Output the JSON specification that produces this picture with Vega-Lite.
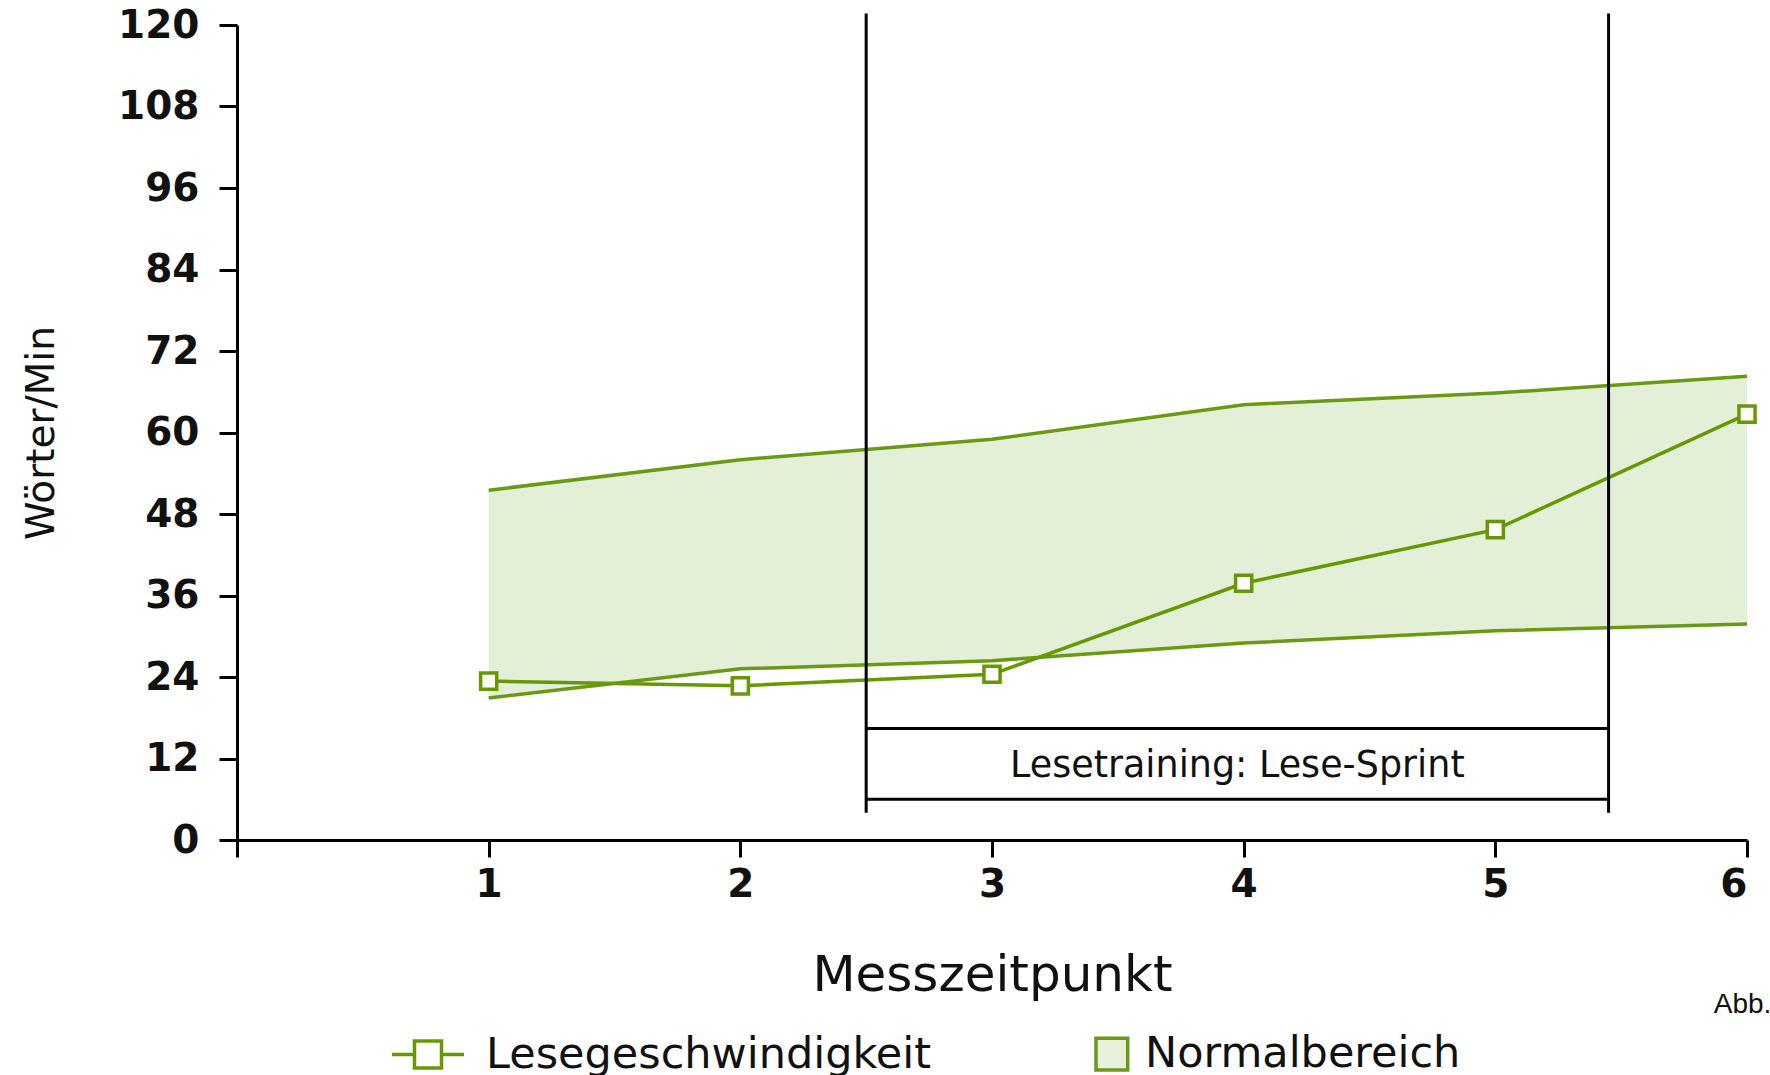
{
  "$schema": "https://vega.github.io/schema/vega-lite/v6.json",
  "width": 1510,
  "height": 815,
  "autosize": {"type": "none"},
  "padding": {"left": 237, "top": 25, "right": 23, "bottom": 235},
  "background": "white",
  "config": {
    "view": {"stroke": null},
    "axis": {"domainColor": "black", "domainWidth": 3, "tickColor": "black", "tickWidth": 3, "grid": false, "labelFont": "DejaVu Sans", "labelFontWeight": "bold", "labelFontSize": 39, "labelColor": "#111111", "titleFont": "DejaVu Sans", "titleFontWeight": "normal", "titleColor": "#111111"},
    "axisX": {"tickSize": 17, "labelPadding": 8, "titleFontSize": 50, "titlePadding": 46},
    "axisY": {"tickSize": 18, "labelPadding": 20, "titleFontSize": 39, "titlePadding": 56}
  },
  "datasets": {
    "lese": [
      {"t": 1, "w": 23.4}, {"t": 2, "w": 22.7}, {"t": 3, "w": 24.4},
      {"t": 4, "w": 37.8}, {"t": 5, "w": 45.7}, {"t": 6, "w": 62.7}
    ],
    "norm": [
      {"t": 1, "lo": 20.9, "hi": 51.5}, {"t": 2, "lo": 25.2, "hi": 56.0}, {"t": 3, "lo": 26.4, "hi": 59.0},
      {"t": 4, "lo": 29.0, "hi": 64.1}, {"t": 5, "lo": 30.8, "hi": 65.8}, {"t": 6, "lo": 31.8, "hi": 68.3}
    ]
  },
  "layer": [
    {
      "data": {"name": "norm"},
      "mark": {"type": "area", "fill": "#e4efd7"},
      "encoding": {
        "x": {"field": "t", "type": "quantitative", "title": "Messzeitpunkt", "scale": {"domain": [0, 6], "nice": false, "zero": false}, "axis": {"values": [0, 1, 2, 3, 4, 5, 6], "format": "d", "labelExpr": "datum.value == 0 ? '' : datum.label"}},
        "y": {"field": "hi", "type": "quantitative", "title": "Wörter/Min", "scale": {"domain": [0, 120], "nice": false}, "axis": {"values": [0, 12, 24, 36, 48, 60, 72, 84, 96, 108, 120], "format": "d"}},
        "y2": {"field": "lo"}
      }
    },
    {
      "data": {"name": "norm"},
      "mark": {"type": "line", "stroke": "#6a9a14", "strokeWidth": 3.5},
      "encoding": {
        "x": {"field": "t", "type": "quantitative", "title": "Messzeitpunkt"},
        "y": {"field": "hi", "type": "quantitative", "title": "Wörter/Min"}
      }
    },
    {
      "data": {"name": "norm"},
      "mark": {"type": "line", "stroke": "#6a9a14", "strokeWidth": 3.5},
      "encoding": {
        "x": {"field": "t", "type": "quantitative", "title": "Messzeitpunkt"},
        "y": {"field": "lo", "type": "quantitative", "title": "Wörter/Min"}
      }
    },
    {
      "data": {"name": "lese"},
      "mark": {"type": "line", "stroke": "#669900", "strokeWidth": 3.5},
      "encoding": {
        "x": {"field": "t", "type": "quantitative", "title": "Messzeitpunkt"},
        "y": {"field": "w", "type": "quantitative", "title": "Wörter/Min"}
      }
    },
    {
      "data": {"name": "lese"},
      "mark": {"type": "point", "shape": "square", "size": 260, "filled": true, "fill": "white", "stroke": "#669900", "strokeWidth": 3.5, "opacity": 1},
      "encoding": {
        "x": {"field": "t", "type": "quantitative", "title": "Messzeitpunkt"},
        "y": {"field": "w", "type": "quantitative", "title": "Wörter/Min"}
      }
    },
    {
      "data": {"values": [{"grenze": 2.5}, {"grenze": 5.45}]},
      "mark": {"type": "rule", "color": "black", "strokeWidth": 3},
      "encoding": {
        "x": {"field": "grenze", "type": "quantitative", "title": "Messzeitpunkt"},
        "y": {"datum": 4, "type": "quantitative", "title": "Wörter/Min"},
        "y2": {"datum": 121.7}
      }
    },
    {
      "data": {"values": [{"linie": 16.4}, {"linie": 6.0}]},
      "mark": {"type": "rule", "color": "black", "strokeWidth": 3},
      "encoding": {
        "x": {"datum": 2.5, "type": "quantitative", "title": "Messzeitpunkt"},
        "x2": {"datum": 5.45},
        "y": {"field": "linie", "type": "quantitative", "title": "Wörter/Min"}
      }
    },
    {
      "data": {"values": [{"phase": "Lesetraining: Lese-Sprint", "xm": 3.975, "ym": 10.9}]},
      "mark": {"type": "text", "font": "DejaVu Sans", "fontSize": 36.5, "color": "#111111", "align": "center", "baseline": "middle"},
      "encoding": {
        "x": {"field": "xm", "type": "quantitative", "title": "Messzeitpunkt"},
        "y": {"field": "ym", "type": "quantitative", "title": "Wörter/Min"},
        "text": {"field": "phase"}
      }
    },
    {
      "data": {"values": [{"note": "Abb.", "xn": 5.868, "yn": -24.3}]},
      "mark": {"type": "text", "font": "Liberation Sans", "fontSize": 28, "color": "#111111", "align": "left", "baseline": "middle"},
      "encoding": {
        "x": {"field": "xn", "type": "quantitative", "title": "Messzeitpunkt"},
        "y": {"field": "yn", "type": "quantitative", "title": "Wörter/Min"},
        "text": {"field": "note"}
      }
    },
    {
      "data": {"values": [{"series": "Lesegeschwindigkeit"}, {"series": "Normalbereich"}]},
      "mark": {"type": "point", "opacity": 0, "filled": true, "strokeWidth": 3.5},
      "encoding": {
        "shape": {
          "field": "series", "type": "nominal",
          "scale": {"domain": ["Lesegeschwindigkeit", "Normalbereich"], "range": ["M-1,0H-0.375M0.375,0H1M-0.375,-0.375H0.375V0.375H-0.375Z", "M0.25,-0.44H1.13V0.44H0.25Z"]},
          "legend": {"title": null, "orient": "none", "legendX": 153, "legendY": 991, "direction": "horizontal", "columns": 2, "columnPadding": 117, "symbolSize": 5184, "symbolStrokeWidth": 3.5, "symbolOpacity": 1, "labelFont": "DejaVu Sans", "labelFontSize": 43, "labelColor": "#111111", "labelOffset": 20, "labelLimit": 1000, "padding": 0}
        },
        "fill": {
          "field": "series", "type": "nominal",
          "scale": {"domain": ["Lesegeschwindigkeit", "Normalbereich"], "range": ["#ffffff", "#e8f0dc"]},
          "legend": {"title": null, "orient": "none", "legendX": 153, "legendY": 991, "direction": "horizontal", "columns": 2, "columnPadding": 117, "symbolSize": 5184, "symbolStrokeWidth": 3.5, "symbolOpacity": 1, "labelFont": "DejaVu Sans", "labelFontSize": 43, "labelColor": "#111111", "labelOffset": 20, "labelLimit": 1000, "padding": 0}
        },
        "stroke": {
          "field": "series", "type": "nominal",
          "scale": {"domain": ["Lesegeschwindigkeit", "Normalbereich"], "range": ["#669900", "#6a9a14"]},
          "legend": {"title": null, "orient": "none", "legendX": 153, "legendY": 991, "direction": "horizontal", "columns": 2, "columnPadding": 117, "symbolSize": 5184, "symbolStrokeWidth": 3.5, "symbolOpacity": 1, "labelFont": "DejaVu Sans", "labelFontSize": 43, "labelColor": "#111111", "labelOffset": 20, "labelLimit": 1000, "padding": 0}
        }
      }
    }
  ]
}
